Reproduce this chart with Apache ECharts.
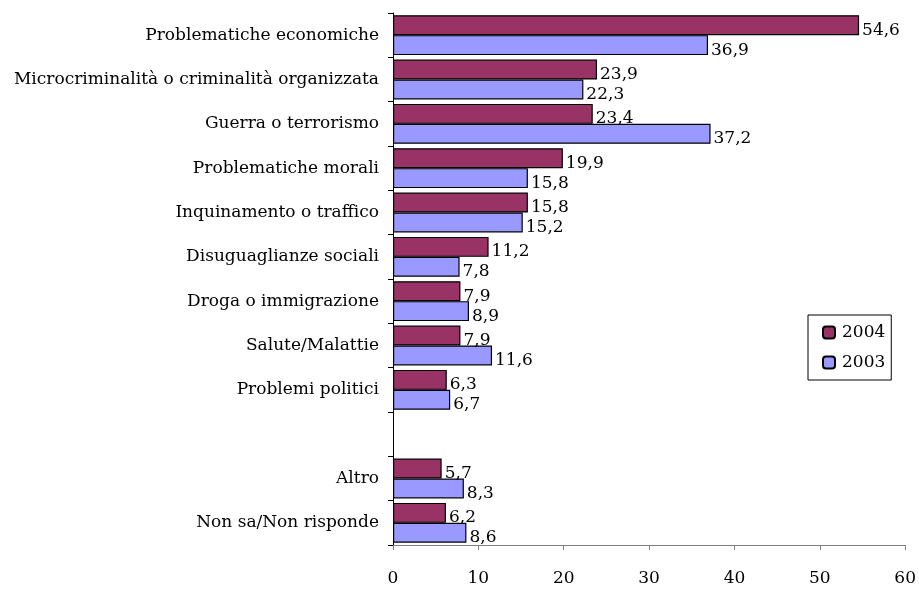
<!DOCTYPE html>
<html>
<head>
<meta charset="utf-8">
<style>
  html, body { margin: 0; padding: 0; background: #fff; }
  #chart { width: 919px; height: 591px; }
</style>
<script src="https://cdn.jsdelivr.net/npm/echarts@6/dist/echarts.min.js"></script>
</head>
<body>
<div id="chart"></div>
<script>
// Categories, top to bottom (empty entry leaves a gap row)
const categories = [
  'Problematiche economiche',
  'Microcriminalità o criminalità organizzata',
  'Guerra o terrorismo',
  'Problematiche morali',
  'Inquinamento o traffico',
  'Disuguaglianze sociali',
  'Droga o immigrazione',
  'Salute/Malattie',
  'Problemi politici',
  '',
  'Altro',
  'Non sa/Non risponde'
];
const values2004 = [54.6, 23.9, 23.4, 19.9, 15.8, 11.2, 7.9, 7.9, 6.3, null, 5.7, 6.2];
const values2003 = [36.9, 22.3, 37.2, 15.8, 15.2, 7.8, 8.9, 11.6, 6.7, null, 8.3, 8.6];
const xTicks = { min: 0, max: 60, interval: 10 };

const FONT = '"DejaVu Serif", "Liberation Serif", serif';
const fmt = v => v.toFixed(1).replace('.', ',');

const chart = echarts.init(document.getElementById('chart'));

function barSeries(name, data, color) {
  return {
    name: name,
    type: 'bar',
    data: data,
    barGap: '0%',
    barCategoryGap: '10%',
    itemStyle: { color: color, borderColor: '#000', borderWidth: 1.2 },
    label: {
      show: true,
      position: 'right',
      distance: 3,
      offset: [0, 5],
      color: '#000',
      fontFamily: FONT,
      fontSize: 17,
      formatter: p => fmt(p.value)
    },
    emphasis: { disabled: true },
    animation: false
  };
}

chart.setOption({
  backgroundColor: '#fff',
  animation: false,
  grid: { left: 393, right: 12, top: 13, bottom: 46, containLabel: false },
  legend: {
    orient: 'vertical',
    left: 808,
    top: 315,
    data: ['2004', '2003'],
    itemWidth: 12,
    itemHeight: 12,
    itemGap: 13,
    padding: [9, 6, 9, 14],
    borderColor: '#000',
    borderWidth: 1,
    textStyle: { fontFamily: FONT, fontSize: 17, color: '#000', padding: [0, 0, 0, 2] },
    selectedMode: false
  },
  xAxis: {
    type: 'value',
    min: xTicks.min,
    max: xTicks.max,
    interval: xTicks.interval,
    axisLine: { show: true, lineStyle: { color: '#808080', width: 1 } },
    axisTick: { show: true, inside: false, length: 5, lineStyle: { color: '#808080' } },
    splitLine: { show: false },
    axisLabel: { margin: 25, color: '#000', fontFamily: FONT, fontSize: 17 }
  },
  yAxis: {
    type: 'category',
    inverse: true,
    data: categories,
    axisLine: { show: true, lineStyle: { color: '#000', width: 1 } },
    axisTick: { show: true, inside: false, length: 5, lineStyle: { color: '#000' } },
    axisLabel: { margin: 14, color: '#000', fontFamily: FONT, fontSize: 17, interval: 0 }
  },
  series: [
    barSeries('2004', values2004, '#993366'),
    barSeries('2003', values2003, '#9999FF')
  ]
});
</script>
</body>
</html>
